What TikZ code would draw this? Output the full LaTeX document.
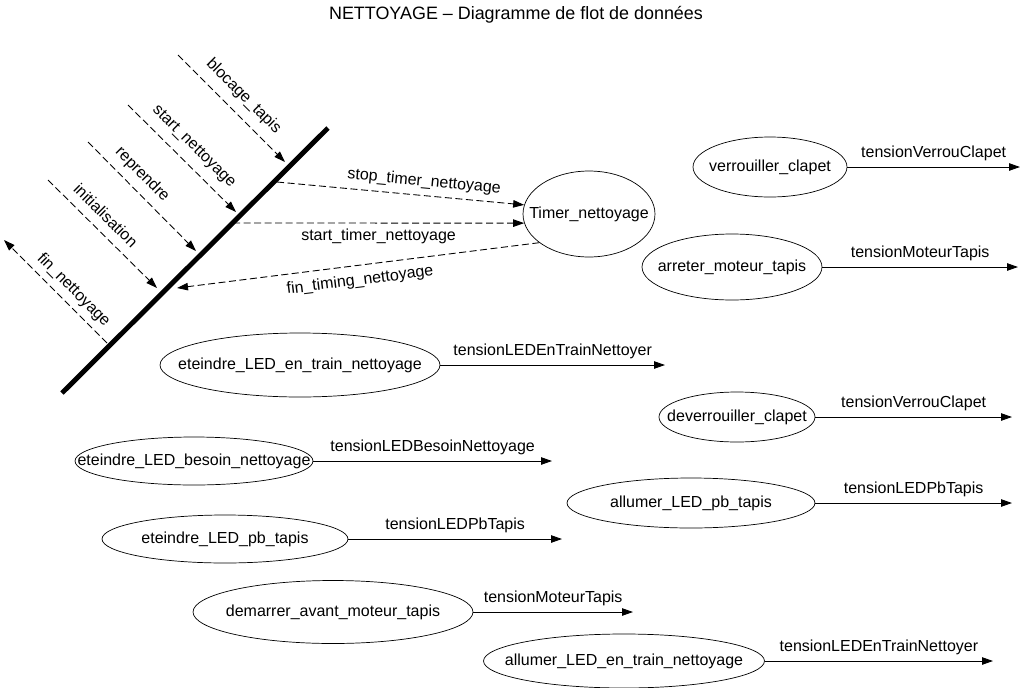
\documentclass[tikz,border=0pt]{standalone}
\usepackage{fontspec}
\setmainfont{Liberation Sans}
\usetikzlibrary{arrows.meta}
\usetikzlibrary{shapes.geometric}

\begin{document}
\begin{tikzpicture}[x=0.02cm, y=-0.02cm,
  every node/.style={font=\fontsize{9.1}{11}\selectfont},
  proc/.style={draw, ellipse, inner sep=0pt},
  flow/.style={line width=0.5pt, -{Triangle[length=2.2mm,width=1.5mm]}},
  ctrl/.style={flow, dash pattern=on 4pt off 2pt}]
\useasboundingbox (0,0) rectangle (1022,687);

\node[font=\fontsize{10.2}{12}\selectfont] (titre) at (516,15) {NETTOYAGE – Diagramme de flot de données};

\coordinate (barA) at (62,393);
\coordinate (barB) at (328,128);
\draw[line width=2.8pt] (barA) -- (barB);

\coordinate (inBlocage) at (178,55);
\coordinate (tipBlocage) at (285,162);
\coordinate (inStart) at (128,105);
\coordinate (tipStart) at (236,212);
\coordinate (inReprendre) at (88,142);
\coordinate (tipReprendre) at (196,251);
\coordinate (inInit) at (48,180);
\coordinate (tipInit) at (157,288);
\coordinate (barFinN) at (107,343);
\coordinate (outFinN) at (4,240);

\draw[ctrl] (inBlocage) -- (tipBlocage) node[midway, sloped, above=2pt] {blocage\_tapis};
\draw[ctrl] (inStart) -- (tipStart) node[midway, sloped, above=2pt] {start\_nettoyage};
\draw[ctrl] (inReprendre) -- (tipReprendre) node[pos=0.4, sloped, above=1pt] {reprendre};
\draw[ctrl] (inInit) -- (tipInit) node[pos=0.43, sloped, above=2pt] {initialisation};
\draw[ctrl] (barFinN) -- (outFinN) node[pos=0.42, sloped, above=0pt] {fin\_nettoyage};

\node[proc, minimum width=2.64cm, minimum height=1.72cm, label={center:Timer\_nettoyage}] (timer) at (589,214) {};

\coordinate (barStop) at (277,182);
\coordinate (barStart) at (233,223);
\coordinate (barFin) at (177,288);

\draw[ctrl] (barStop) -- (timer.172) node[pos=0.59, sloped, above] {stop\_timer\_nettoyage};
\draw[ctrl] (barStart) -- (timer.188) node[midway, below] {start\_timer\_nettoyage};
\draw[ctrl] (timer.210) -- (barFin) node[midway, sloped, below=1pt] {fin\_timing\_nettoyage};

\node[proc, minimum width=3.08cm, minimum height=1.2cm, label={center:verrouiller\_clapet}] (verrou) at (770,167) {};
\node[proc, minimum width=3.6cm, minimum height=1.32cm, label={center:arreter\_moteur\_tapis}] (arreter) at (732,267) {};
\node[proc, minimum width=5.6cm, minimum height=1.28cm, label={center:eteindre\_LED\_en\_train\_nettoyage}] (etTrain) at (300,365) {};
\node[proc, minimum width=3.12cm, minimum height=1.0cm, label={center:deverrouiller\_clapet}] (deverrou) at (737,417) {};
\node[proc, minimum width=4.76cm, minimum height=0.96cm, label={center:eteindre\_LED\_besoin\_nettoyage}] (etBesoin) at (194,461) {};
\node[proc, minimum width=4.96cm, minimum height=1.0cm, label={center:allumer\_LED\_pb\_tapis}] (alPb) at (691,503) {};
\node[proc, minimum width=4.92cm, minimum height=0.96cm, label={center:eteindre\_LED\_pb\_tapis}] (etPb) at (225,539) {};
\node[proc, minimum width=5.6cm, minimum height=1.26cm, label={center:demarrer\_avant\_moteur\_tapis}] (demarrer) at (333,612) {};
\node[proc, minimum width=5.62cm, minimum height=1.08cm, label={center:allumer\_LED\_en\_train\_nettoyage}] (alTrain) at (624,661) {};

\coordinate (outVerrou) at (1020,167);
\coordinate (outArreter) at (1018,267);
\coordinate (outEtTrain) at (665,365);
\coordinate (outDeverrou) at (1012,417);
\coordinate (outEtBesoin) at (552,461);
\coordinate (outAlPb) at (1012,503);
\coordinate (outEtPb) at (562,539);
\coordinate (outDemarrer) at (633,612);
\coordinate (outAlTrain) at (993,661);

\draw[flow] (verrou) -- (outVerrou) node[midway, above] {tensionVerrouClapet};
\draw[flow] (arreter) -- (outArreter) node[midway, above] {tensionMoteurTapis};
\draw[flow] (etTrain) -- (outEtTrain) node[midway, above] {tensionLEDEnTrainNettoyer};
\draw[flow] (deverrou) -- (outDeverrou) node[midway, above] {tensionVerrouClapet};
\draw[flow] (etBesoin) -- (outEtBesoin) node[midway, above] {tensionLEDBesoinNettoyage};
\draw[flow] (alPb) -- (outAlPb) node[midway, above] {tensionLEDPbTapis};
\draw[flow] (etPb) -- (outEtPb) node[midway, above] {tensionLEDPbTapis};
\draw[flow] (demarrer) -- (outDemarrer) node[midway, above] {tensionMoteurTapis};
\draw[flow] (alTrain) -- (outAlTrain) node[midway, above] {tensionLEDEnTrainNettoyer};

\end{tikzpicture}
\end{document}
